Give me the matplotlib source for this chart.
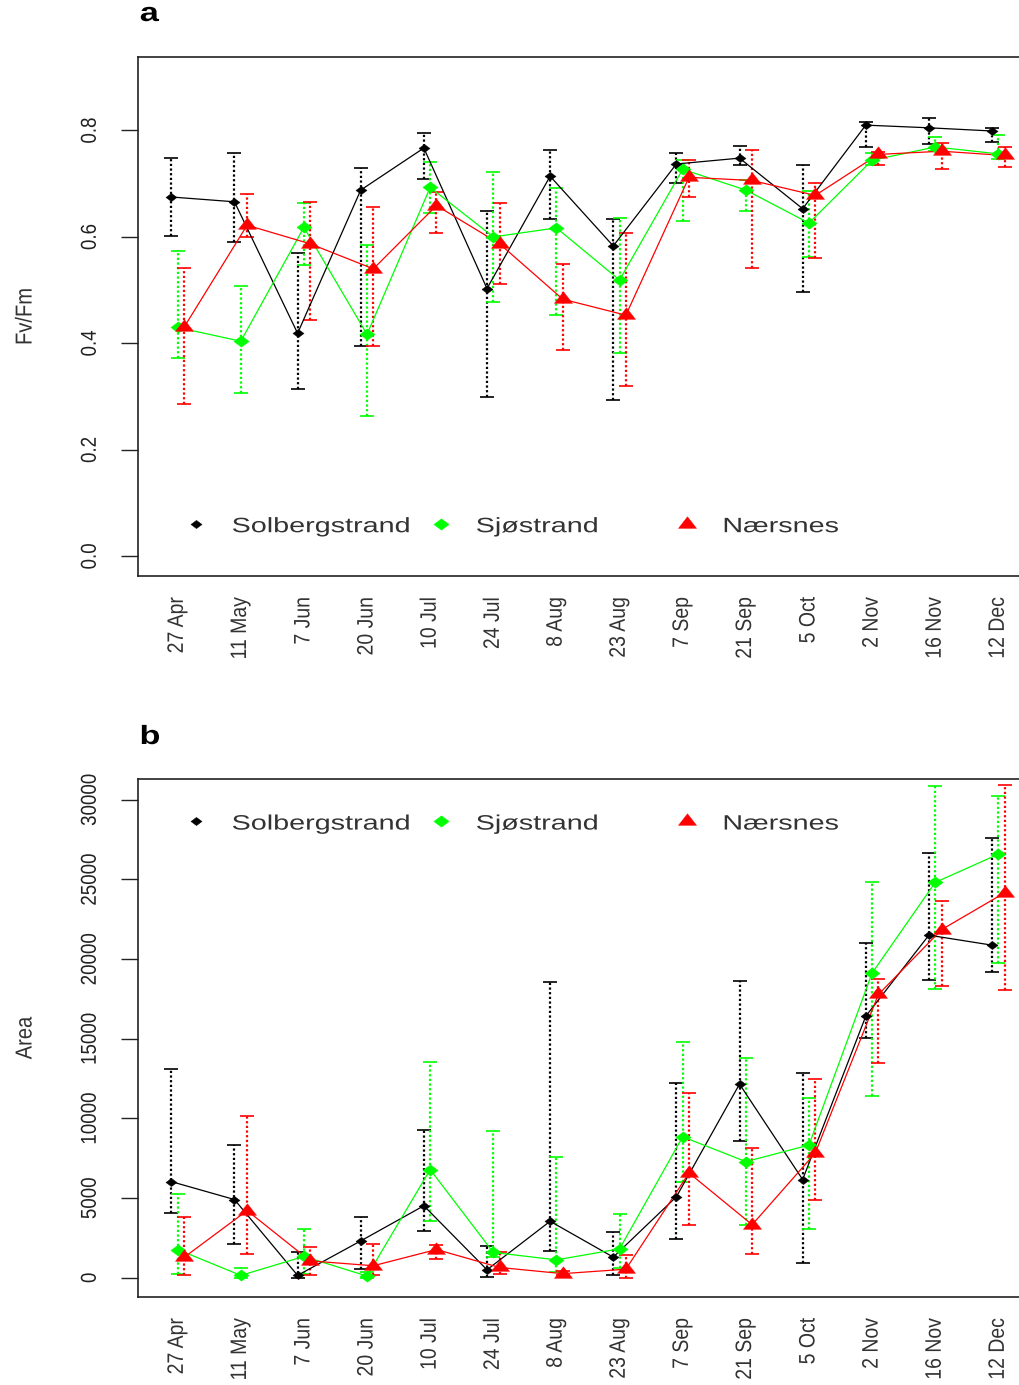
import numpy as np
import matplotlib
matplotlib.use('Agg')
import matplotlib.pyplot as plt
from matplotlib.patheffects import AbstractPathEffect
from matplotlib.transforms import Affine2D

plt.rcParams['font.family'] = ['Liberation Sans', 'DejaVu Sans']

dates = ['27 Apr', '11 May', '7 Jun', '20 Jun', '10 Jul', '24 Jul', '8 Aug',
         '23 Aug', '7 Sep', '21 Sep', '5 Oct', '2 Nov', '16 Nov', '12 Dec']
sites = ['Solbergstrand', 'Sjøstrand', 'Nærsnes']

# Fv/Fm: mean with lower / upper error limits per sampling date
fvfm_sol = [0.675, 0.666, 0.419, 0.688, 0.767, 0.503, 0.714, 0.583, 0.737, 0.748, 0.653, 0.810, 0.805, 0.799]
fvfm_sol_lo = [0.602, 0.591, 0.315, 0.396, 0.708, 0.300, 0.633, 0.294, 0.701, 0.736, 0.496, 0.769, 0.774, 0.779]
fvfm_sol_hi = [0.749, 0.758, 0.570, 0.730, 0.795, 0.649, 0.764, 0.633, 0.758, 0.770, 0.735, 0.816, 0.823, 0.805]

fvfm_sjo = [0.430, 0.404, 0.618, 0.417, 0.693, 0.600, 0.617, 0.519, 0.727, 0.688, 0.626, 0.744, 0.769, 0.756]
fvfm_sjo_lo = [0.373, 0.307, 0.548, 0.263, 0.644, 0.478, 0.453, 0.382, 0.630, 0.648, 0.563, 0.736, 0.761, 0.746]
fvfm_sjo_hi = [0.574, 0.508, 0.664, 0.584, 0.740, 0.722, 0.691, 0.635, 0.745, 0.706, 0.686, 0.758, 0.788, 0.792]

fvfm_nae = [0.430, 0.622, 0.587, 0.540, 0.659, 0.587, 0.483, 0.453, 0.712, 0.706, 0.678, 0.755, 0.761, 0.753]
fvfm_nae_lo = [0.286, 0.599, 0.443, 0.396, 0.607, 0.511, 0.387, 0.320, 0.675, 0.542, 0.560, 0.735, 0.727, 0.731]
fvfm_nae_hi = [0.542, 0.681, 0.666, 0.656, 0.685, 0.663, 0.550, 0.607, 0.745, 0.764, 0.701, 0.760, 0.777, 0.768]

# Area
area_sol = [6035, 4910, 151, 2314, 4520, 503, 3547, 1298, 5083, 12156, 6165, 16417, 21500, 20873]
area_sol_lo = [4045, 2098, 0, 541, 2963, 20, 1665, 151, 2423, 8587, 908, 15076, 18710, 19186]
area_sol_hi = [13086, 8327, 1600, 3785, 9279, 2013, 18537, 2855, 12221, 18645, 12848, 21024, 26648, 27578]

area_sjo = [1774, 151, 1341, 108, 6792, 1591, 1125, 1817, 8847, 7290, 8327, 19121, 24809, 26583]
area_sjo_lo = [260, 0, 260, 0, 3569, 1300, 368, 584, 5991, 3331, 3071, 11399, 18147, 19726]
area_sjo_hi = [5234, 584, 3071, 368, 13562, 9201, 7549, 3980, 14795, 13822, 11291, 24809, 30865, 30217]

area_nae = [1276, 4218, 1060, 757, 1774, 648, 260, 541, 6576, 3331, 7830, 17780, 21846, 24161]
area_nae_lo = [151, 1492, 151, 151, 1168, 260, 150, 0, 3331, 1492, 4910, 13497, 18321, 18039]
area_nae_hi = [3785, 10144, 1925, 2141, 2033, 1600, 400, 1406, 11615, 8154, 12481, 18753, 23663, 30931]

colors = ['#000000', '#00ff00', '#ff0000']
shift = [0.0, 0.1, 0.2]

# wide diamond / triangle like the device output
DIAMOND = [(-1.35, 0), (0, 1), (1.35, 0), (0, -1), (-1.35, 0)]
TRIANGLE = [(0, 1), (1.17, -0.5), (-1.17, -0.5), (0, 1)]
markers = [DIAMOND, DIAMOND, TRIANGLE]
msizes = [8, 11, 13]


class Widen(AbstractPathEffect):
    """Stretch a text path horizontally around a point of its extent."""

    def __init__(self, sx=1.35, anchor=0.5):
        super().__init__()
        self._sx = sx
        self._anchor = anchor

    def draw_path(self, renderer, gc, tpath, affine, rgbFace=None):
        box = tpath.get_extents(affine)
        x0 = box.x0 + self._anchor * box.width
        wide = Affine2D().translate(-x0, 0).scale(self._sx, 1).translate(x0, 0)
        renderer.draw_path(gc, tpath, affine + wide, rgbFace)


W = 1019
H = 1385
fig = plt.figure(figsize=(W / 100, H / 100), dpi=100)


def px_axes(left, top, right, bottom):
    return fig.add_axes([left / W, 1 - bottom / H, (right - left) / W, (bottom - top) / H])


def draw_site(ax, x, mean, lo, hi, color, marker, ms):
    mean = np.asarray(mean, float)
    lo = np.asarray(lo, float)
    hi = np.asarray(hi, float)
    eb = ax.errorbar(x, mean, yerr=[mean - lo, hi - mean], fmt='none', ecolor=color,
                     elinewidth=1.6, capsize=5, capthick=1.2, zorder=2)
    eb.lines[2][0].set_linestyle((0, (1, 1.1)))
    ax.plot(x, mean, color=color, lw=0.9, zorder=3)
    ax.plot(x, mean, ls='none', marker=marker, ms=ms, color=color, mec=color, mew=0.3, zorder=4)


def style_axes(ax, yticks, ylabels, ylim):
    idx = np.arange(1, len(dates) + 1)
    ax.set_xlim(0.472, 14.728)
    ax.set_ylim(*ylim)
    ax.set_xticks(idx + 0.1)
    ax.set_xticklabels(dates, rotation=90, fontsize=14, color='#333333')
    ax.tick_params(axis='x', length=0, pad=15)
    ax.set_yticks(yticks)
    ax.set_yticklabels(ylabels, rotation=90, va='center', fontsize=13.5, color='#333333')
    ax.tick_params(axis='y', length=12.5, width=1.0, pad=15, colors='#222222')
    for t in ax.get_xticklabels():
        t.set_path_effects([Widen(1.15, 0.5)])
    for t in ax.get_yticklabels():
        t.set_path_effects([Widen(1.15, 1.0)])
    for sp in ax.spines.values():
        sp.set_linewidth(1.2)
        sp.set_color('#222222')


def draw_legend(ax, yfrac):
    mx = [0.0644, 0.3367, 0.6100]
    tx = [0.1044, 0.3756, 0.6500]
    for i in range(3):
        ax.plot([mx[i]], [yfrac], transform=ax.transAxes, ls='none', marker=markers[i],
                ms=msizes[i], color=colors[i], mec=colors[i], mew=0.3, clip_on=False)
        ax.text(tx[i], yfrac - 0.005, sites[i], transform=ax.transAxes, ha='left', va='center',
                fontsize=15, color='#333333', path_effects=[Widen(1.38, 0.0)])


idx = np.arange(1, len(dates) + 1)

# panel a: Fv/Fm
ax1 = px_axes(138, 57, 1038, 576)
series_a = [(fvfm_sol, fvfm_sol_lo, fvfm_sol_hi),
            (fvfm_sjo, fvfm_sjo_lo, fvfm_sjo_hi),
            (fvfm_nae, fvfm_nae_lo, fvfm_nae_hi)]
for i, (m, lo, hi) in enumerate(series_a):
    draw_site(ax1, idx + shift[i], m, lo, hi, colors[i], markers[i], msizes[i])
style_axes(ax1, [0.0, 0.2, 0.4, 0.6, 0.8], ['0.0', '0.2', '0.4', '0.6', '0.8'], (-0.037, 0.938))
draw_legend(ax1, 0.100)

# panel b: Area
ax2 = px_axes(138, 779, 1038, 1297)
series_b = [(area_sol, area_sol_lo, area_sol_hi),
            (area_sjo, area_sjo_lo, area_sjo_hi),
            (area_nae, area_nae_lo, area_nae_hi)]
for i, (m, lo, hi) in enumerate(series_b):
    draw_site(ax2, idx + shift[i], m, lo, hi, colors[i], markers[i], msizes[i])
bt = [0, 5000, 10000, 15000, 20000, 25000, 30000]
style_axes(ax2, bt, [str(v) for v in bt], (-1205, 31300))
draw_legend(ax2, 0.918)

fig.text(25 / W, 1 - 316.5 / H, 'Fv/Fm', rotation=90, ha='center', va='center',
         fontsize=14.5, color='#333333', path_effects=[Widen(1.15, 0.5)])
fig.text(25 / W, 1 - 1038 / H, 'Area', rotation=90, ha='center', va='center',
         fontsize=14.5, color='#333333', path_effects=[Widen(1.15, 0.5)])

fig.text(140 / W, 1 - 21 / H, 'a', fontweight='bold', fontsize=19, ha='left', va='baseline',
         path_effects=[Widen(1.3, 0.0)])
fig.text(140 / W, 1 - 744 / H, 'b', fontweight='bold', fontsize=19, ha='left', va='baseline',
         path_effects=[Widen(1.3, 0.0)])

fig.savefig('out.png', dpi=100)
